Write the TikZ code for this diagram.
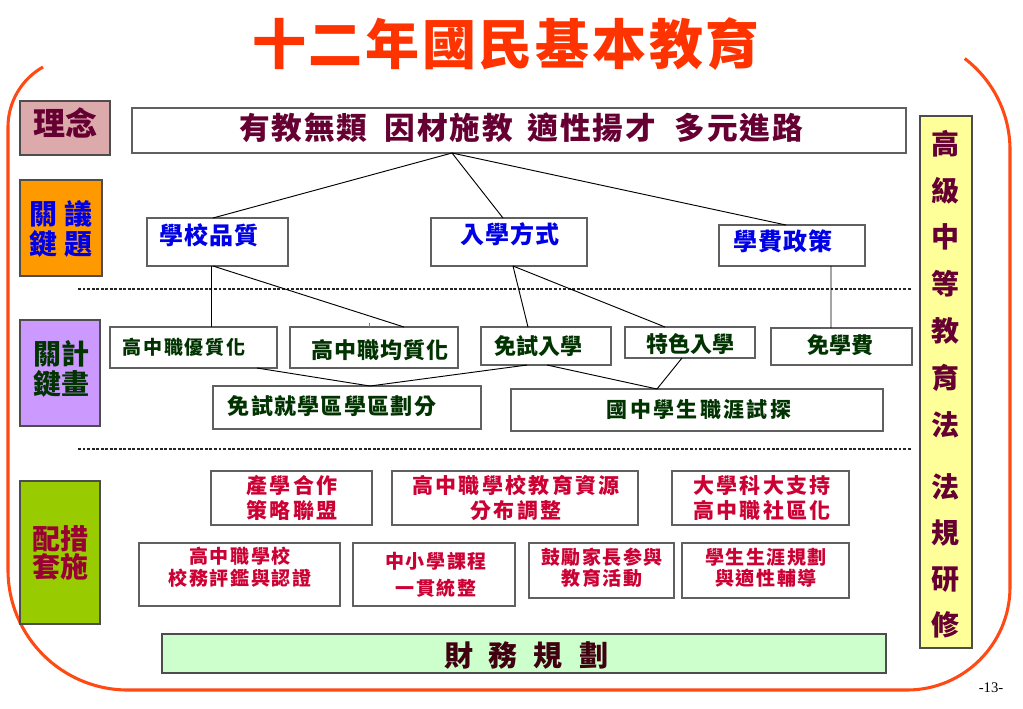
\documentclass[tikz,border=0pt]{standalone}
\usepackage{fontspec}
\setmainfont{Noto Sans CJK TC}
\newfontfamily\lserif{Liberation Serif}
\newcommand\fz[2]{\fontsize{#1pt}{#2pt}\selectfont}
\newcommand\lsp[1]{\addfontfeature{LetterSpace=#1}}
\newcommand\mkbox[6]{\node[#6, minimum width={(#4-#2)*0.75pt}, minimum height={(#5-#3)*0.75pt}] (#1) at ({(#2+#4)/2},{(#3+#5)/2}) {};}
\definecolor{titlered}{HTML}{FF3300}
\definecolor{framered}{HTML}{FF4A14}
\definecolor{maroon}{HTML}{660033}
\definecolor{bluetxt}{HTML}{0000E6}
\definecolor{greentxt}{HTML}{003300}
\definecolor{crimson}{HTML}{CC0033}
\definecolor{darkred}{HTML}{990033}
\definecolor{darktxt}{HTML}{400010}
\definecolor{pinkfill}{HTML}{DCAAAA}
\definecolor{orangefill}{HTML}{FF9900}
\definecolor{purplefill}{HTML}{CC99FF}
\definecolor{greenfill}{HTML}{99CC00}
\definecolor{yellowfill}{HTML}{FFFF99}
\definecolor{lightgreen}{HTML}{CCFFCC}
\definecolor{boxgray}{HTML}{606060}
\begin{document}
\begin{tikzpicture}[x=0.75pt,y=-0.75pt,
  box/.style={draw=boxgray, line width=1pt, inner sep=0pt, outer sep=0pt, fill=white},
  cbox/.style={draw=boxgray!80!black, line width=0.9pt, inner sep=0pt, outer sep=0pt},
  txt/.style={inner sep=0pt, outer sep=0pt, align=center},
  conn/.style={draw=black, line width=0.7pt},
  dotsep/.style={draw=black!85, line width=2.2pt, dash pattern=on 2.2pt off 1.2pt},
  frame/.style={draw=framered, line width=2.3pt}]
\useasboundingbox (0,0) rectangle (1023,708);
% frame
\draw[frame] (43,67) arc[start angle=240.5, end angle=180, radius=69] -- (8,570)
  arc[start angle=180, end angle=90, radius=120] -- (907,690)
  arc[start angle=90, end angle=0, radius=103] -- (1010,150)
  arc[start angle=0, end angle=-52.7, radius=115];
% title
\node[txt, text=titlered, font={\bfseries\fz{40.5}{48}\lsp{5}}] (title) at (506,44) {十二年國民基本教育};
% left category boxes
\mkbox{lin}{20}{101}{110}{155}{cbox, fill=pinkfill}
\node[txt, text=maroon, font={\bfseries\fz{24}{28}}] (lint) at (65,123) {理念};
\mkbox{gy}{20}{180}{102}{276}{cbox, fill=orangefill}
\node[txt, text=bluetxt, font={\bfseries\fz{21}{22}}] (gyt) at (61,229) {關\hspace{6pt}議\\鍵\hspace{6pt}題};
\mkbox{jh}{20}{320}{100}{426}{cbox, fill=purplefill}
\node[txt, text=greentxt, font={\bfseries\fz{21}{22.5}}] (jht) at (61,369) {關計\\鍵畫};
\mkbox{pt}{20}{481}{100}{624}{cbox, fill=greenfill}
\node[txt, text=darkred, font={\bfseries\fz{21}{21}}] (ptt) at (60,553) {配措\\套施};
% top idea box
\mkbox{top}{132}{108}{906}{153}{box}
\node[txt, text=maroon, font={\bfseries\fz{23}{26}\lsp{6}}] (topt) at (521,128) {有教無類\hspace{13pt}因材施教\hspace{11pt}適性揚才\hspace{14pt}多元進路};
% issues
\mkbox{q1}{147}{218}{288}{266}{box}
\node[txt, text=bluetxt, font={\bfseries\fz{18}{20}\lsp{5}}] (q1t) at (209,235) {學校品質};
\mkbox{q2}{431}{218}{587}{266}{box}
\node[txt, text=bluetxt, font={\bfseries\fz{18}{20}\lsp{5}}] (q2t) at (510,234) {入學方式};
\mkbox{q3}{719}{225}{865}{266}{box}
\node[txt, text=bluetxt, font={\bfseries\fz{18}{20}\lsp{5}}] (q3t) at (783,241.5) {學費政策};
% separators
\draw[dotsep] (78,289) -- (912,289);
\draw[dotsep] (78,449) -- (912,449);
% plans
\mkbox{m1}{110}{327}{277}{368}{box}
\node[txt, text=greentxt, font={\bfseries\fz{14.25}{16}\lsp{10}}] (m1t) at (184,347) {高中職優質化};
\mkbox{m2}{290}{327}{458}{368}{box}
\node[txt, text=greentxt, font={\bfseries\fz{16.5}{18}\lsp{5}}] (m2t) at (380,350) {高中職均質化};
\mkbox{m3}{481}{327}{611}{365}{box}
\node[txt, text=greentxt, font={\bfseries\fz{16.5}{18}}] (m3t) at (538,346) {免試入學};
\mkbox{m4}{625}{327}{755}{358}{box}
\node[txt, text=greentxt, font={\bfseries\fz{16.5}{18}}] (m4t) at (690,344) {特色入學};
\mkbox{m5}{771}{328}{912}{365}{box}
\node[txt, text=greentxt, font={\bfseries\fz{16.5}{18}}] (m5t) at (840,345) {免學費};
\mkbox{b1}{213}{386}{481}{429}{box}
\node[txt, text=greentxt, font={\bfseries\fz{16.5}{18}\lsp{6}}] (b1t) at (332,406) {免試就學區學區劃分};
\mkbox{b2}{511}{389}{883}{431}{box}
\node[txt, text=greentxt, font={\bfseries\fz{15.75}{18}\lsp{11}}] (b2t) at (699,409.5) {國中學生職涯試探};
% measures
\mkbox{r1}{211}{471}{372}{525}{box}
\node[txt, text=crimson, font={\bfseries\fz{15.75}{18.75}\lsp{11}}] (r1t) at (292,498) {產學合作\\策略聯盟};
\mkbox{r2}{392}{471}{638}{525}{box}
\node[txt, text=crimson, font={\bfseries\fz{15.75}{18.75}\lsp{11}}] (r2t) at (516,498) {高中職學校教育資源\\分布調整};
\mkbox{r3}{672}{471}{849}{525}{box}
\node[txt, text=crimson, font={\bfseries\fz{15.75}{18.75}\lsp{11}}] (r3t) at (762,498) {大學科大支持\\高中職社區化};
\mkbox{s1}{139}{543}{340}{606}{box}
\node[txt, text=crimson, font={\bfseries\fz{14.25}{16.5}\lsp{8}}] (s1t) at (240,567) {高中職學校\\校務評鑑與認證};
\mkbox{s2}{353}{543}{515}{606}{box}
\node[txt, text=crimson, font={\bfseries\fz{14.25}{20}\lsp{8}}] (s2t) at (436,574.5) {中小學課程\\一貫統整};
\mkbox{s3}{529}{543}{674}{598}{box}
\node[txt, text=crimson, font={\bfseries\fz{14.25}{15.75}\lsp{8}}] (s3t) at (602,567.5) {鼓勵家長参與\\教育活動};
\mkbox{s4}{682}{543}{849}{598}{box}
\node[txt, text=crimson, font={\bfseries\fz{14.25}{15.75}\lsp{8}}] (s4t) at (766,567.5) {學生生涯規劃\\與適性輔導};
% finance
\mkbox{cw}{162}{634}{886}{673}{cbox, fill=lightgreen}
\node[txt, text=darktxt, font={\bfseries\fz{21.75}{24}}] (cwt) at (526,655) {財\hspace{12pt}務\hspace{12pt}規\hspace{12pt}劃};
% law column
\mkbox{law}{920}{116}{972}{648}{cbox, fill=yellowfill}
\node[txt, text=maroon, font={\bfseries\fz{21}{35.1}}] (lawt) at (945,384) {高\\級\\中\\等\\教\\育\\法\\[12pt]法\\[-0.8pt]規\\[-0.8pt]研\\[-0.8pt]修};
% page number
\node[txt, font={\lserif\fz{11}{13}}] (pg) at (991,688) {-13-};
% connectors
\draw[conn] ([xshift=-50.25pt]top.south) -- ([xshift=-3.4pt]q1.north);
\draw[conn] ([xshift=-50.25pt]top.south) -- ([xshift=-4.5pt]q2.north);
\draw[conn] ([xshift=-50.25pt]top.south) -- ([xshift=-4.5pt]q3.north);
\draw[conn] ([xshift=-4.9pt]q1.south) -- ([xshift=13.1pt]m1.north);
\draw[conn] ([xshift=-3.4pt]q1.south) -- ([xshift=22.5pt]m2.north);
\coordinate (tick) at (369,322.5);
\draw[conn, draw=gray] (tick) -- (tick |- m2.north);
\draw[conn] ([xshift=3pt]q2.south) -- ([xshift=-13.5pt]m3.north);
\draw[conn] ([xshift=3pt]q2.south) -- ([xshift=-18.75pt]m4.north);
\draw[conn] ([xshift=29.25pt]q3.south) -- ([xshift=-7.9pt]m5.north);
\draw[conn] ([xshift=47.6pt]m1.south) -- ([xshift=17.25pt]b1.north);
\draw[conn] ([xshift=-14.25pt]m3.south) -- ([xshift=17.25pt]b1.north);
\draw[conn] ([xshift=0.75pt]m3.south) -- ([xshift=-30pt]b2.north);
\draw[conn] ([xshift=-6pt]m4.south) -- ([xshift=-30pt]b2.north);
\end{tikzpicture}
\end{document}
